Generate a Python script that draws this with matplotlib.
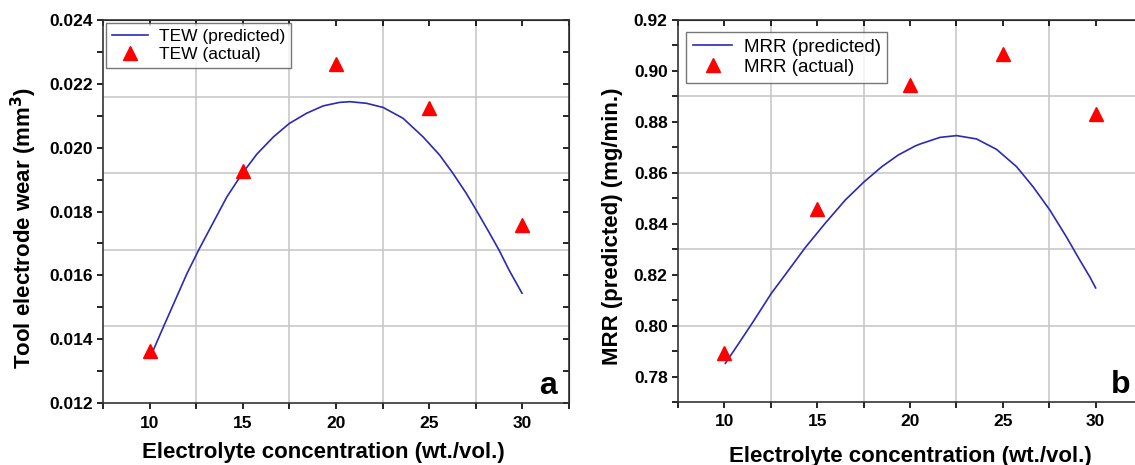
import numpy as np
import matplotlib
matplotlib.use("Agg")
import matplotlib.pyplot as plt
from matplotlib.ticker import MultipleLocator, FormatStrFormatter

plt.rcParams['font.family'] = ['Liberation Sans', 'DejaVu Sans']

# concentracao (wt./vol.) dos pontos medidos
conc = [10, 15, 20, 25, 30]
tew_act = [0.01362, 0.01926, 0.02263, 0.02123, 0.01757]
mrr_act = [0.7892, 0.8459, 0.8944, 0.9066, 0.8832]

# curvas previstas, lidas ponto a ponto do grafico
conc_tew = [10.05, 10.59, 11.3, 12.01, 12.64, 13.44, 14.15, 14.96, 15.76, 16.65, 17.5, 18.43,
            19.32, 20.21, 20.75, 21.64, 22.53, 23.6, 24.67, 25.56, 26.27, 26.99, 27.52, 28.24,
            28.74, 29.3, 29.98]
tew_pred = [0.01345, 0.01418, 0.01512, 0.01606, 0.01680, 0.01768, 0.01846, 0.01918, 0.01980,
            0.02034, 0.02076, 0.02108, 0.02131, 0.02142, 0.02144, 0.02139, 0.02126, 0.02092,
            0.02034, 0.01977, 0.01920, 0.01857, 0.01805, 0.01732, 0.01680, 0.01615, 0.01544]

conc_mrr = [10.05, 10.77, 11.49, 12.53, 13.46, 14.35, 15.43, 16.51, 17.53, 18.48, 19.37, 20.27,
            20.54, 21.61, 22.51, 23.58, 24.66, 25.74, 26.63, 27.53, 28.42, 29.14, 29.68, 30.0]
mrr_pred = [0.7852, 0.7930, 0.8009, 0.8127, 0.8218, 0.8306, 0.8402, 0.8493, 0.8565, 0.8624,
            0.8670, 0.8705, 0.8713, 0.8739, 0.8746, 0.8733, 0.8692, 0.8624, 0.8545, 0.8454,
            0.8349, 0.8258, 0.8192, 0.8148]

fig = plt.figure(figsize=(11.35, 4.65), dpi=100)
ax1 = fig.add_axes([0.0907, 0.1333, 0.4106, 0.8237])
ax2 = fig.add_axes([0.5974, 0.1355, 0.4088, 0.8215])

grid_c = "#c8c8c8"
azul = "#2a2ab4"


def estilo(ax, ymin, ymax, ymaj, ymin_step, ygrid, fmt, letra):
    ax.set_xlim(7.5, 32.5)
    ax.set_ylim(ymin, ymax)
    ax.xaxis.set_major_locator(MultipleLocator(5))
    ax.xaxis.set_minor_locator(MultipleLocator(2.5))
    ax.yaxis.set_major_locator(MultipleLocator(ymaj))
    ax.yaxis.set_minor_locator(MultipleLocator(ymin_step))
    ax.yaxis.set_major_formatter(FormatStrFormatter(fmt))
    for g in [12.5, 17.5, 22.5, 27.5]:
        ax.axvline(g, color=grid_c, lw=1.2, zorder=0)
    for g in ygrid:
        ax.axhline(g, color=grid_c, lw=1.2, zorder=0)
    ax.tick_params(which='both', direction='out', length=4, width=1.2,
                   labelsize=12.5, top=False, right=False)
    ax.tick_params(axis='x', pad=5)
    for lab in ax.get_xticklabels() + ax.get_yticklabels():
        lab.set_fontweight('bold')
    # ticks internos no topo e na direita (estilo Origin)
    sec = ax.secondary_xaxis('top')
    sec.xaxis.set_major_locator(MultipleLocator(5))
    sec.xaxis.set_minor_locator(MultipleLocator(2.5))
    sec.tick_params(which='both', direction='in', length=4, width=1.2, labeltop=False)
    sec2 = ax.secondary_yaxis('right')
    sec2.yaxis.set_major_locator(MultipleLocator(ymaj))
    sec2.yaxis.set_minor_locator(MultipleLocator(ymin_step))
    sec2.tick_params(which='both', direction='in', length=4, width=1.2, labelright=False)
    for s in ax.spines.values():
        s.set_linewidth(1.2)
        s.set_color("#333333")
    ax.text(0.955, 0.045, letra, transform=ax.transAxes, fontsize=23,
            fontweight='bold', ha='center', va='center')


def legenda(ax, anchor, fs):
    leg = ax.legend(loc="upper left", bbox_to_anchor=anchor, fontsize=fs, frameon=True,
                    fancybox=False, edgecolor="#555555", handlelength=2.1, borderpad=0.35,
                    labelspacing=0.15, handletextpad=0.6, borderaxespad=0.15)
    leg.get_frame().set_linewidth(1.0)


ax1.plot(conc_tew, tew_pred, color=azul, lw=1.2, label="TEW (predicted)")
ax1.plot(conc, tew_act, "^", color="red", ms=10, label="TEW (actual)")
estilo(ax1, 0.012, 0.024, 0.002, 0.001, [0.0144, 0.0168, 0.0192, 0.0216], '%.3f', "a")
ax1.set_xlabel("Electrolyte concentration (wt./vol.)", fontsize=16, fontweight='bold')
ax1.set_ylabel("Tool electrode wear (mm$^\\mathbf{3}$)", fontsize=16, fontweight='bold')
ax1.xaxis.set_label_coords(0.474, -0.103)
ax1.yaxis.set_label_coords(-0.137, 0.457)
legenda(ax1, (0.0, 1.0), 12.5)

ax2.plot(conc_mrr, mrr_pred, color=azul, lw=1.2, label="MRR (predicted)")
ax2.plot(conc, mrr_act, "^", color="red", ms=10, label="MRR (actual)")
estilo(ax2, 0.77, 0.92, 0.02, 0.01, [0.80, 0.83, 0.86, 0.89], '%.2f', "b")
ax2.set_xlabel("Electrolyte concentration (wt./vol.)", fontsize=16, fontweight='bold')
ax2.set_ylabel("MRR (predicted) (mg/min.)", fontsize=16, fontweight='bold')
ax2.xaxis.set_label_coords(0.5, -0.115)
ax2.yaxis.set_label_coords(-0.1185, 0.46)
legenda(ax2, (0.012, 0.975), 13.5)

fig.savefig("out.png", dpi=100)
